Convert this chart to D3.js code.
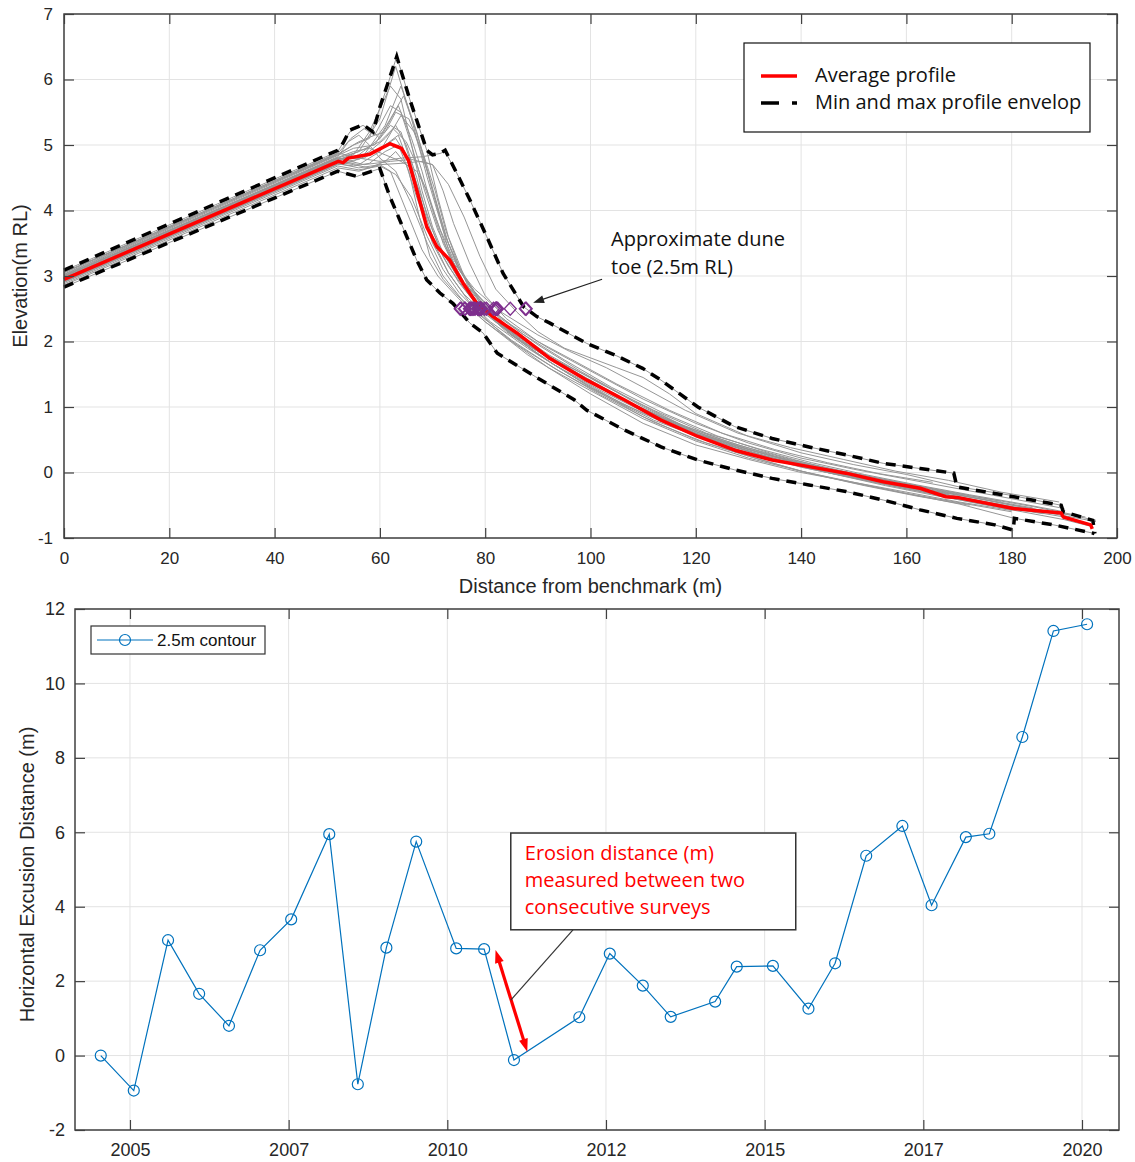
<!DOCTYPE html>
<html><head><meta charset="utf-8">
<script src="https://cdn.jsdelivr.net/npm/d3@7"></script>
<style>body{margin:0;background:#fff}</style>
</head><body>
<svg id="c" width="1135" height="1162"></svg>
<script>
// ---------------- DATA ----------------
// Top panel: beach profiles [distance (m), elevation (m RL)]
const avgProfile = [[0,2.95],[52.1,4.75],[53,4.73],[54,4.8],[58.1,4.86],[61.9,5.02],[62.5,5.0],[64.1,4.95],[65.4,4.77],[67,4.31],[68.9,3.75],[70.8,3.45],[73.3,3.24],[75.8,2.89],[78.4,2.58],[81.5,2.38],[86,2.13],[92.3,1.74],[99.3,1.41],[106.4,1.11],[113.4,0.80],[120.4,0.55],[127.4,0.34],[134.5,0.19],[141.5,0.09],[148.5,-0.01],[155.6,-0.14],[162.6,-0.24],[167.5,-0.37],[169.6,-0.38],[180.3,-0.55],[189.4,-0.62],[189.8,-0.68],[195,-0.80],[195.3,-0.86]];
const maxEnvelope = [[0,3.09],[52,4.92],[53,5.03],[54.3,5.23],[56.8,5.31],[58.7,5.2],[60,5.58],[63.2,6.35],[65.7,5.69],[68.9,4.92],[70,4.85],[71.4,4.87],[72.4,4.92],[74.6,4.57],[77.1,4.16],[80.3,3.6],[83.4,3.04],[87.3,2.53],[89.8,2.38],[92.3,2.28],[99.3,1.97],[105,1.78],[109.9,1.59],[113.4,1.41],[120.4,1.0],[127.4,0.70],[134.5,0.52],[141.5,0.39],[148.5,0.27],[155.6,0.14],[162.6,0.06],[169,-0.01],[169.6,-0.22],[176.8,-0.32],[189.4,-0.50],[189.8,-0.60],[195.4,-0.73],[195.8,-0.93]];
const minEnvelope = [[0,2.83],[52,4.6],[55.6,4.52],[58.1,4.59],[60,4.64],[61.9,4.21],[63.8,3.85],[67,3.24],[68.9,2.94],[71.4,2.74],[73.9,2.58],[77.1,2.28],[79.6,2.13],[82.3,1.82],[89.6,1.46],[96.9,1.11],[99.3,0.95],[106.4,0.65],[113.4,0.39],[120.4,0.19],[127.4,0.04],[134.5,-0.09],[141.5,-0.19],[148.5,-0.29],[155.6,-0.42],[162.6,-0.57],[169.6,-0.70],[176.8,-0.80],[180.3,-0.88],[180.5,-0.70],[188,-0.80],[195.7,-0.93]];
const surveyProfiles = [
 [[0,3.05],[52,4.85],[55,5.0],[58,5.1],[61,5.8],[63.2,6.35],[65.7,5.69],[68.9,4.92],[71,4.2],[73,3.6],[76,3.0],[80,2.5],[85,2.1],[92,1.75],[100,1.4],[110,0.95],[120,0.6],[130,0.35],[140,0.12],[150,-0.05],[160,-0.22],[170,-0.38],[180,-0.52],[190,-0.66],[196,-0.75]],
 [[0,3.0],[52,4.8],[56,4.9],[60,5.4],[63,6.2],[66,5.4],[69,4.5],[72,3.7],[75,3.1],[79,2.6],[85,2.15],[95,1.6],[105,1.15],[115,0.8],[125,0.5],[135,0.25],[145,0.05],[155,-0.12],[165,-0.28],[175,-0.42],[185,-0.57],[192,-0.66]],
 [[0,2.98],[52,4.78],[57,4.85],[61,5.3],[64,5.9],[67,5.2],[70,4.3],[73,3.5],[77,2.8],[82,2.3],[90,1.8],[100,1.3],[110,0.9],[120,0.55],[130,0.3],[140,0.08],[150,-0.08],[160,-0.25],[170,-0.4]],
 [[0,2.95],[52,4.75],[56,4.85],[60,5.1],[63.5,5.6],[66,5.1],[68,4.6],[70,4.0],[72,3.5],[75,3.0],[78,2.6],[84,2.15],[92,1.7],[100,1.3],[110,0.85],[120,0.5],[130,0.25],[140,0.02],[150,-0.16],[160,-0.32],[170,-0.46],[180,-0.6]],
 [[0,3.08],[52,4.9],[54.3,5.2],[56.8,5.3],[58.7,5.2],[60,5.1],[62,5.3],[64,5.2],[66,4.7],[68,4.1],[70,3.6],[73,3.15],[77,2.7],[82,2.3],[90,1.85],[100,1.45],[110,1.0],[120,0.62],[130,0.35],[140,0.14],[150,-0.02],[160,-0.18],[170,-0.34],[180,-0.5],[190,-0.63],[196,-0.73]],
 [[0,3.05],[52,4.88],[56,4.8],[60,4.75],[64,4.8],[68,4.82],[71.4,4.87],[72.4,4.9],[74.6,4.57],[77.1,4.16],[80.3,3.6],[83.4,3.04],[87.3,2.53],[89.8,2.38],[92.3,2.28],[99.3,1.97],[105,1.78],[109.9,1.59],[113.4,1.41],[120.4,1.0],[127.4,0.70],[134.5,0.52],[141.5,0.39],[148.5,0.27],[155.6,0.14],[162.6,0.06],[169,-0.01]],
 [[0,3.0],[52,4.8],[57,4.7],[62,4.75],[66,4.78],[70,4.7],[73,4.4],[76,3.9],[79,3.3],[82,2.8],[86,2.45],[90,2.15],[95,1.9],[100,1.75],[105,1.6],[110,1.45],[115,1.2],[120,0.9],[130,0.55],[140,0.3],[150,0.12],[160,-0.03],[170,-0.22],[180,-0.35],[189.4,-0.5]],
 [[0,2.83],[52,4.6],[55.6,4.52],[58.1,4.59],[60,4.64],[61.9,4.21],[63.8,3.85],[67,3.24],[68.9,2.94],[71.4,2.74],[73.9,2.58],[77.1,2.28],[79.6,2.13],[82.3,1.82],[89.6,1.46],[96.9,1.11],[99.3,0.95],[106.4,0.65],[113.4,0.39],[120.4,0.19],[127.4,0.04],[134.5,-0.09],[141.5,-0.19],[148.5,-0.29],[155.6,-0.42],[162.6,-0.57],[169.6,-0.70],[176.8,-0.80],[180.3,-0.88]],
 [[0,2.86],[52,4.65],[56,4.6],[60,4.7],[62,4.6],[65,4.0],[68,3.4],[71,3.0],[75,2.65],[80,2.3],[88,1.8],[95,1.45],[100,1.2],[110,0.75],[120,0.42],[130,0.2],[140,0.0],[150,-0.15],[160,-0.32],[170,-0.48],[180.5,-0.70],[188,-0.80],[195.7,-0.93]],
 [[0,2.9],[52,4.7],[55,4.75],[58,4.9],[61,5.1],[63,5.3],[65,5.0],[67,4.5],[69,3.9],[71,3.5],[74,3.1],[77,2.75],[81,2.4],[87,2.0],[95,1.6],[105,1.15],[115,0.75],[125,0.45],[135,0.2],[145,0.0],[155,-0.16],[165,-0.3],[175,-0.45]],
 [[0,2.92],[52,4.72],[56,4.65],[60,4.7],[64,4.72],[68,4.75],[70,4.7],[72,4.3],[74,3.8],[77,3.2],[80,2.7],[84,2.35],[90,2.0],[97,1.7],[105,1.35],[115,0.95],[125,0.6],[135,0.35],[145,0.15],[155,-0.02],[165,-0.15]],
 [[0,3.0],[52,4.82],[54,5.05],[56,5.15],[58,5.0],[60,4.8],[63,4.6],[66,4.1],[69,3.5],[72,3.0],[76,2.6],[80,2.3],[86,1.95],[94,1.55],[102,1.2],[112,0.8],[122,0.5],[132,0.25],[142,0.05],[152,-0.12],[162,-0.28],[172,-0.45],[182,-0.6],[190,-0.72],[195,-0.82]],
 [[0,2.96],[52,4.76],[56,4.7],[60,4.9],[64,5.45],[66.5,5.2],[69,4.6],[71,4.0],[73,3.4],[75,3.0],[79,2.55],[85,2.1],[93,1.65],[102,1.25],[112,0.85],[122,0.52],[132,0.28],[142,0.07],[152,-0.1],[162,-0.27],[172,-0.43],[182,-0.57],[190,-0.68]],
 [[0,3.02],[52,4.84],[55,4.95],[59,5.0],[62,5.4],[64.5,5.75],[66.5,5.3],[68.5,4.8],[70.5,4.3],[72.5,3.7],[75,3.15],[78,2.75],[83,2.35],[90,1.95],[98,1.55],[108,1.1],[118,0.7],[128,0.42],[138,0.2],[148,0.02],[158,-0.14],[168,-0.3],[178,-0.44]],
 [[0,2.94],[52,4.74],[55,4.7],[58,4.65],[61,4.75],[63,4.9],[65,4.7],[67,4.2],[70,3.55],[73,3.05],[77,2.6],[81,2.3],[88,1.9],[96,1.5],[106,1.05],[116,0.7],[126,0.42],[136,0.18],[146,-0.02],[156,-0.2],[166,-0.36],[176,-0.5],[186,-0.63]],
 [[0,3.03],[52,4.86],[56,5.05],[59,5.15],[62,5.6],[64,5.5],[66,5.0],[68.5,4.3],[71,3.7],[74,3.2],[78,2.8],[83,2.45],[90,2.1],[96,1.85],[103,1.6],[110,1.3],[118,0.95],[128,0.6],[138,0.38],[148,0.2],[158,0.02],[168,-0.12],[178,-0.3],[189,-0.45]],
 [[0,2.99],[52,4.79],[57,4.8],[61,5.0],[63.5,5.15],[66,4.6],[68,4.0],[70,3.5],[73,3.05],[76,2.72],[80,2.42],[86,2.05],[94,1.65],[104,1.2],[114,0.82],[124,0.5],[134,0.26],[144,0.06],[154,-0.1],[164,-0.26],[174,-0.4],[184,-0.54]],
 [[0,2.97],[52,4.77],[55,4.85],[58,5.2],[62,5.9],[64,5.7],[66,5.0],[68,4.3],[70,3.75],[72,3.35],[75,2.95],[79,2.55],[84,2.2],[91,1.82],[100,1.4],[110,0.95],[120,0.6],[130,0.33],[140,0.1],[150,-0.07],[160,-0.22],[170,-0.37],[180,-0.52],[190,-0.64]],
 [[0,2.88],[52,4.68],[56,4.62],[60,4.68],[63,4.55],[66,4.2],[69,3.6],[72,3.1],[75,2.75],[79,2.42],[85,2.0],[92,1.6],[100,1.25],[110,0.82],[120,0.48],[130,0.22],[140,0.02],[150,-0.15],[160,-0.3],[170,-0.45],[180,-0.58]],
 [[0,3.06],[52,4.87],[54.5,5.1],[57,5.25],[59,5.15],[61,5.2],[63,5.5],[65.5,5.4],[68,4.9],[70.5,4.2],[72.5,3.6],[75,3.1],[78.5,2.7],[84,2.25],[92,1.8],[102,1.35],[112,0.95],[122,0.6],[132,0.36],[142,0.15],[152,-0.03],[162,-0.19],[172,-0.34],[182,-0.48],[190,-0.6]],
 [[0,2.93],[52,4.73],[56,4.78],[60,4.95],[63,5.1],[65,4.85],[67.5,4.3],[70,3.7],[72,3.3],[75,2.9],[78,2.6],[83,2.25],[90,1.88],[98,1.5],[108,1.05],[118,0.68],[128,0.4],[138,0.17],[148,-0.02],[158,-0.18],[168,-0.33]],
 [[0,3.01],[52,4.81],[55,4.9],[58,4.95],[61,4.85],[64,4.75],[67,4.6],[69,4.3],[71,3.8],[73,3.35],[76,2.9],[80,2.55],[85,2.25],[92,1.9],[100,1.55],[110,1.12],[120,0.75],[130,0.45],[140,0.22],[150,0.05],[160,-0.1],[170,-0.25],[180,-0.4],[190,-0.55]],
 [[0,2.91],[52,4.71],[55,4.68],[58,4.72],[61,4.9],[63.5,5.0],[65.5,4.6],[67.5,3.9],[69.5,3.3],[72,2.95],[75,2.68],[79,2.4],[85,2.02],[93,1.6],[102,1.18],[112,0.77],[122,0.45],[132,0.2],[142,-0.02],[152,-0.2],[162,-0.36],[172,-0.5]],
 [[0,2.97],[52,4.77],[56,4.9],[60,5.05],[62.5,5.25],[65,5.05],[67,4.7],[69,4.25],[71.5,3.7],[74,3.25],[77,2.85],[81,2.5],[87,2.12],[95,1.72],[104,1.3],[114,0.9],[124,0.56],[134,0.3],[144,0.08],[154,-0.08],[164,-0.23],[174,-0.38],[184,-0.52],[194,-0.68]]
];
// Dune-toe (2.5 m RL) crossing distances, one per survey
const toeDistances = [76.2,75.25,79.3,77.85,77.0,79.03,79.86,82.15,75.43,79.1,81.95,79.09,79.06,76.08,77.23,78.94,78.08,77.24,77.65,78.59,78.61,77.46,78.68,81.57,82.37,80.24,82.07,82.16,84.76,87.61,87.79];
const toeLevel = 2.5;
const topXTicks = [0,20,40,60,80,100,120,140,160,180,200];
const topYTicks = [-1,0,1,2,3,4,5,6,7];

// Bottom panel: survey date (decimal year) and horizontal excursion (m)
const surveyDates = [2004.54,2005.06,2005.60,2006.09,2006.56,2007.05,2007.54,2008.14,2008.59,2009.04,2009.51,2010.14,2010.58,2011.05,2012.08,2012.56,2013.08,2013.52,2014.22,2014.56,2015.13,2015.69,2016.11,2016.60,2017.17,2017.63,2018.17,2018.54,2019.06,2019.55,2020.08];
const excursion = [0.0,-0.94,3.1,1.66,0.8,2.83,3.66,5.95,-0.77,2.9,5.75,2.88,2.86,-0.12,1.03,2.74,1.88,1.04,1.45,2.39,2.41,1.26,2.48,5.37,6.17,4.04,5.87,5.96,8.56,11.41,11.59];
const bottomXTicks = [2005,2007.5,2010,2012.5,2015,2017.5,2020];
const bottomXTickLabels = ["2005","2007","2010","2012","2015","2017","2020"];
const bottomYTicks = [-2,0,2,4,6,8,10,12];

// ---------------- DRAW ----------------
const svg = d3.select("#c");
const AX = "#262626", GRID = "#e3e3e3", TICKFONT = "'Liberation Sans', Arial, sans-serif", CALLOUT = "'Open Sans', Lato, sans-serif";
const CALLOUT_FS = "20px";
const plainNum = d => String(d);

function arrowHead(g, x1, y1, x2, y2, len, wid, color) {
  const a = Math.atan2(y2 - y1, x2 - x1);
  const bx = x2 - len * Math.cos(a), by = y2 - len * Math.sin(a);
  const px = -Math.sin(a) * wid / 2, py = Math.cos(a) * wid / 2;
  g.append("path").attr("d", `M${x2},${y2}L${bx+px},${by+py}L${bx-px},${by-py}Z`).attr("fill", color);
}

function grid(g, x, y, xTicks, yTicks, W, H) {
  g.append("g").selectAll("line").data(xTicks).join("line")
    .attr("x1", d => x(d)).attr("x2", d => x(d)).attr("y1", 0).attr("y2", H)
    .attr("stroke", GRID).attr("stroke-width", 1);
  g.append("g").selectAll("line").data(yTicks).join("line")
    .attr("y1", d => y(d)).attr("y2", d => y(d)).attr("x1", 0).attr("x2", W)
    .attr("stroke", GRID).attr("stroke-width", 1);
}
function axes(g, x, y, xTicks, yTicks, xFmt, W, H, fs, padX, padY) {
  const style = sel => {
    sel.select(".domain").remove();
    sel.selectAll(".tick line").attr("stroke", "#404040").attr("stroke-width", 1.2);
    sel.selectAll(".tick text").attr("fill", AX).style("font-family", TICKFONT).style("font-size", fs + "px");
  };
  g.append("g").attr("transform", `translate(0,${H})`)
    .call(d3.axisBottom(x).tickValues(xTicks).tickFormat(xFmt).tickSize(-10).tickPadding(padX)).call(style);
  g.append("g").call(d3.axisTop(x).tickValues(xTicks).tickFormat("").tickSize(-10)).call(style);
  g.append("g").call(d3.axisLeft(y).tickValues(yTicks).tickFormat(plainNum).tickSize(-10).tickPadding(padY)).call(style);
  g.append("g").attr("transform", `translate(${W},0)`)
    .call(d3.axisRight(y).tickValues(yTicks).tickFormat("").tickSize(-10)).call(style);
  g.append("rect").attr("width", W).attr("height", H).attr("fill", "none")
    .attr("stroke", "#404040").attr("stroke-width", 1.5);
}

// ===== Top panel =====
{
  const L = 64, T = 14, W = 1117 - 64, H = 538 - 14;
  const g = svg.append("g").attr("transform", `translate(${L},${T})`);
  const x = d3.scaleLinear().domain([0, 200]).range([0, W]);
  const y = d3.scaleLinear().domain([-1, 7]).range([H, 0]);
  grid(g, x, y, topXTicks, topYTicks, W, H);
  const line = d3.line().x(d => x(d[0])).y(d => y(d[1]));

  g.append("g").selectAll("path").data(surveyProfiles).join("path")
    .attr("d", line).attr("fill", "none").attr("stroke", "#969696").attr("stroke-width", 1);
  [maxEnvelope, minEnvelope].forEach(env => {
    g.append("path").attr("d", line(env)).attr("fill", "none").attr("stroke", "#000")
      .attr("stroke-width", 3.5).attr("stroke-dasharray", "10,7");
  });
  g.append("path").attr("d", line(avgProfile)).attr("fill", "none").attr("stroke", "#ff0000")
    .attr("stroke-width", 3.5).attr("stroke-linejoin", "round");
  g.append("g").selectAll("path").data(toeDistances).join("path")
    .attr("d", d => { const cx = x(d), cy = y(toeLevel); return `M${cx},${cy-6.5}L${cx+6},${cy}L${cx},${cy+6.5}L${cx-6},${cy}Z`; })
    .attr("fill", "none").attr("stroke", "#7E2F8E").attr("stroke-width", 1.3);

  axes(g, x, y, topXTicks, topYTicks, plainNum, W, H, 17, 14, 11);

  // annotation: dune toe
  const ax1 = x(102.2), ay1 = y(2.95), ax2 = x(89.1), ay2 = y(2.59);
  g.append("line").attr("x1", ax1).attr("y1", ay1).attr("x2", ax2 + 8).attr("y2", ay2 - 3)
    .attr("stroke", "#222").attr("stroke-width", 1.2);
  arrowHead(g, ax1, ay1, ax2, ay2, 11, 8, "#222");
  const ta = g.append("text").style("font-family", CALLOUT).style("font-size", CALLOUT_FS).attr("fill", "#111");
  ta.append("tspan").attr("x", 547).attr("y", 232).text("Approximate dune");
  ta.append("tspan").attr("x", 547).attr("y", 260).text("toe (2.5m RL)");

  // legend
  const lg = g.append("g").attr("transform", `translate(${744 - L},${43 - T})`);
  lg.append("rect").attr("width", 346).attr("height", 89).attr("fill", "#fff").attr("stroke", "#111").attr("stroke-width", 1.2);
  lg.append("line").attr("x1", 17).attr("x2", 53).attr("y1", 33).attr("y2", 33).attr("stroke", "#ff0000").attr("stroke-width", 3.5);
  lg.append("line").attr("x1", 17).attr("x2", 53).attr("y1", 60).attr("y2", 60).attr("stroke", "#000").attr("stroke-width", 3.5).attr("stroke-dasharray", "18,13");
  lg.append("text").attr("x", 71).attr("y", 39).text("Average profile").style("font-family", CALLOUT).style("font-size", CALLOUT_FS).attr("fill", "#111");
  lg.append("text").attr("x", 71).attr("y", 66).text("Min and max profile envelop").style("font-family", CALLOUT).style("font-size", CALLOUT_FS).attr("fill", "#111");

  // axis labels
  svg.append("text").attr("x", L + W / 2).attr("y", 593).attr("text-anchor", "middle")
    .style("font-family", TICKFONT).style("font-size", "20px").attr("fill", AX).text("Distance from benchmark (m)");
  svg.append("text").attr("transform", `translate(27,${T + H / 2}) rotate(-90)`).attr("text-anchor", "middle")
    .style("font-family", TICKFONT).style("font-size", "20px").attr("fill", AX).text("Elevation(m RL)");
}

// ===== Bottom panel =====
{
  const L = 75, T = 609, W = 1119 - 75, H = 1130 - 609;
  const g = svg.append("g").attr("transform", `translate(${L},${T})`);
  const x = d3.scaleLinear().domain([2004.134, 2020.583]).range([0, W]);
  const y = d3.scaleLinear().domain([-2, 12]).range([H, 0]);
  grid(g, x, y, bottomXTicks, bottomYTicks, W, H);
  const pts = surveyDates.map((d, i) => [d, excursion[i]]);
  const line = d3.line().x(d => x(d[0])).y(d => y(d[1]));
  g.append("path").attr("d", line(pts)).attr("fill", "none").attr("stroke", "#0072BD").attr("stroke-width", 1.2);
  g.append("g").selectAll("circle").data(pts).join("circle")
    .attr("cx", d => x(d[0])).attr("cy", d => y(d[1])).attr("r", 5.5)
    .attr("fill", "none").attr("stroke", "#0072BD").attr("stroke-width", 1.2);

  axes(g, x, y, bottomXTicks, bottomYTicks, (d, i) => bottomXTickLabels[i], W, H, 18, 13, 10);

  // legend
  const lg = g.append("g").attr("transform", `translate(${91 - L},${626 - T})`);
  lg.append("rect").attr("width", 174).attr("height", 28).attr("fill", "#fff").attr("stroke", "#333").attr("stroke-width", 1.2);
  lg.append("line").attr("x1", 6).attr("x2", 62).attr("y1", 14).attr("y2", 14).attr("stroke", "#0072BD").attr("stroke-width", 1.2);
  lg.append("circle").attr("cx", 34).attr("cy", 14).attr("r", 5.5).attr("fill", "none").attr("stroke", "#0072BD").attr("stroke-width", 1.2);
  lg.append("text").attr("x", 66).attr("y", 20).text("2.5m contour").style("font-family", TICKFONT).style("font-size", "17px").attr("fill", "#111");

  // red erosion arrow
  const rx1 = x(2010.76), ry1 = y(2.84), rx2 = x(2011.26), ry2 = y(0.10);
  const ang = Math.atan2(ry2 - ry1, rx2 - rx1);
  g.append("line").attr("x1", rx1 + 9 * Math.cos(ang)).attr("y1", ry1 + 9 * Math.sin(ang))
    .attr("x2", rx2 - 9 * Math.cos(ang)).attr("y2", ry2 - 9 * Math.sin(ang))
    .attr("stroke", "#ff0000").attr("stroke-width", 3.2);
  arrowHead(g, rx2, ry2, rx1, ry1, 13, 9, "#ff0000");
  arrowHead(g, rx1, ry1, rx2, ry2, 13, 9, "#ff0000");

  // leader + callout box
  g.append("line").attr("x1", x(2011.98)).attr("y1", y(3.38)).attr("x2", x(2011.0)).attr("y2", y(1.49))
    .attr("stroke", "#333").attr("stroke-width", 1.2);
  const bx0 = x(2011.0), by0 = y(5.98), bx1 = x(2015.49), by1 = y(3.38);
  g.append("rect").attr("x", bx0).attr("y", by0).attr("width", bx1 - bx0).attr("height", by1 - by0)
    .attr("fill", "#fff").attr("stroke", "#333").attr("stroke-width", 1.5);
  const tb = g.append("text").style("font-family", CALLOUT).style("font-size", CALLOUT_FS).attr("fill", "#ff0000");
  ["Erosion distance (m)", "measured between two", "consecutive surveys"].forEach((s, i) => {
    tb.append("tspan").attr("x", bx0 + 14).attr("y", by0 + 27 + i * 27).text(s);
  });

  svg.append("text").attr("transform", `translate(34,${T + H / 2 + 5}) rotate(-90)`).attr("text-anchor", "middle")
    .style("font-family", TICKFONT).style("font-size", "20px").attr("fill", AX).text("Horizontal Excusion Distance (m)");
}
</script>
</body></html>
